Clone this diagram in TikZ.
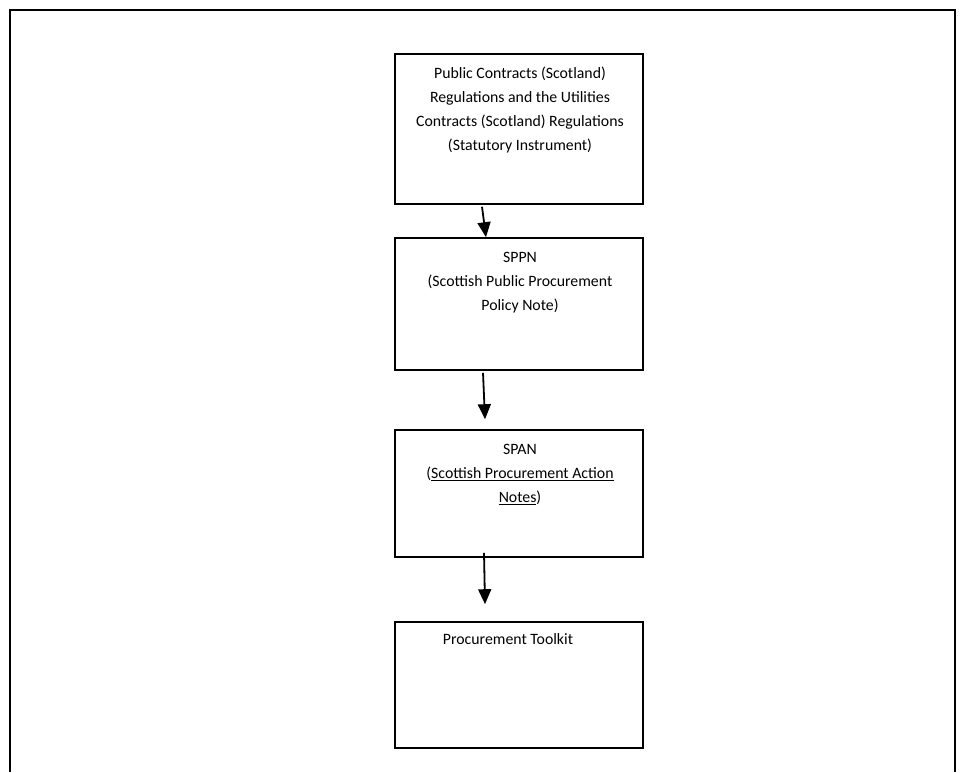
\documentclass[tikz,border=0pt]{standalone}
\usepackage{fontspec}
\setmainfont{Carlito}
\usetikzlibrary{arrows.meta}
\tikzset{
  frameline/.style={line width=2.2pt, draw=black},
  stepbox/.style={draw=black, line width=1.6pt, rectangle, minimum width=248pt, inner sep=0pt},
  boxtext/.style={anchor=north, align=center, inner sep=0pt,
    font=\fontsize{15.8pt}{24pt}\selectfont},
  flow/.style={line width=1.8pt, -{Triangle[width=13pt,length=15pt]}}
}
\begin{document}
\begin{tikzpicture}[x=1pt,y=-1pt]
  \useasboundingbox (0,0) rectangle (965,772);
  % outer frame, open at the bottom
  \draw[frameline] (10,772) -- (10,10) -- (955,10) -- (955,772);

  % the four stacked boxes
  \node[stepbox, minimum height=150pt] (b1) at (519,129) {};
  \node[stepbox, minimum height=132pt] (b2) at (519,304) {};
  \node[stepbox, minimum height=127pt] (b3) at (519,493.5) {};
  \node[stepbox, minimum height=126pt] (b4) at (519,685) {};

  % box texts
  \node[boxtext] (t1) at ([xshift=1pt,yshift=-14pt]b1.north)
    {Public Contracts (Scotland)\\Regulations and the Utilities\\Contracts (Scotland) Regulations\\(Statutory Instrument)};
  \node[boxtext] (t2) at ([xshift=1pt,yshift=-15pt]b2.north)
    {SPPN\\(Scottish Public Procurement\\Policy Note)};
  \node[boxtext] (t3) at ([xshift=1pt,yshift=-15pt]b3.north)
    {SPAN\\(\underline{Scottish Procurement Action}\\\underline{Notes})};
  \node[boxtext] (t4) at ([xshift=-11pt,yshift=-12pt]b4.north)
    {Procurement Toolkit};

  % connectors between the boxes
  \draw[flow] ([xshift=-37pt,yshift=-2pt]b1.south) -- ([xshift=-33pt]b2.north);
  \draw[flow] ([xshift=-36pt,yshift=-2pt]b2.south) -- ([xshift=-34pt,yshift=10pt]b3.north);
  \draw[flow] ([xshift=-35pt,yshift=5pt]b3.south) -- ([xshift=-34pt,yshift=17pt]b4.north);
\end{tikzpicture}
\end{document}
